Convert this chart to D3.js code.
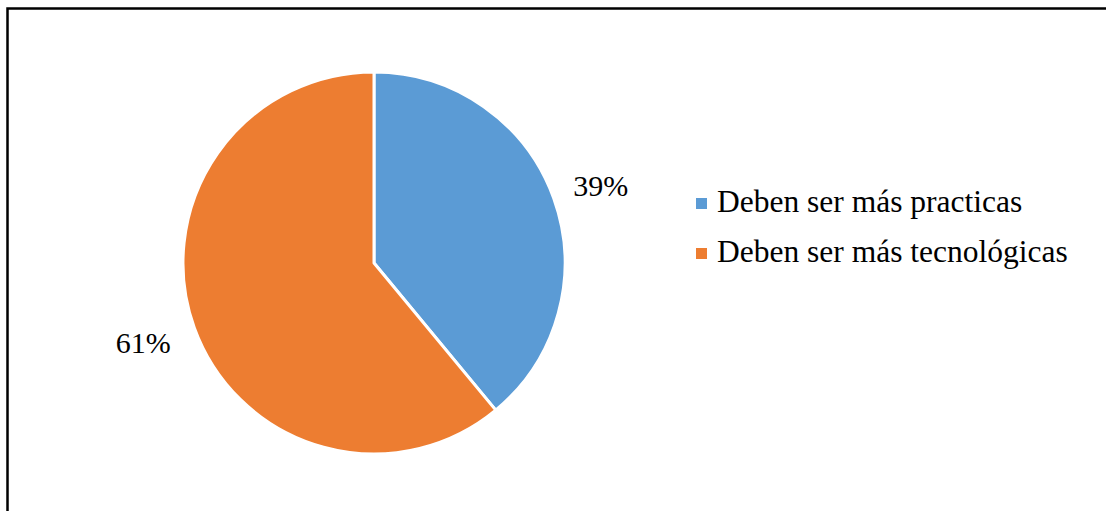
<!DOCTYPE html>
<html>
<head>
<meta charset="utf-8">
<script src="https://cdn.jsdelivr.net/npm/d3@7"></script>
<style>
  body { margin: 0; background: #fff; overflow: hidden; }
  svg { display: block; }
  text { font-family: 'Liberation Serif', 'DejaVu Serif', serif; }
</style>
</head>
<body>
<div id="chart"></div>
<script>
const categories = ["Deben ser más practicas", "Deben ser más tecnológicas"]
const values = [39, 61]
const colors = ["#5B9BD5", "#ED7D31"]

const width = 1106, height = 511
const cx = 374, cy = 263, radius = 191

const svg = d3.select("#chart").append("svg")
    .attr("width", width)
    .attr("height", height)

// outer frame (right and bottom edges fall outside the picture)
svg.append("path")
    .attr("d", "M7.5,520 L7.5,8.5 L1120,8.5")
    .attr("fill", "none")
    .attr("stroke", "#000")
    .attr("stroke-width", 2.5)

const pie = d3.pie().sort(null).value(d => d)
const arcs = pie(values)
const arc = d3.arc().innerRadius(0).outerRadius(radius)

const g = svg.append("g").attr("transform", `translate(${cx},${cy})`)

g.selectAll("path")
    .data(arcs)
    .join("path")
    .attr("d", arc)
    .attr("fill", (d, i) => colors[i])
    .attr("stroke", "#fff")
    .attr("stroke-width", 3)
    .attr("stroke-linejoin", "round")

// percentage labels outside the slices
const labelArc = d3.arc().innerRadius(radius * 1.25).outerRadius(radius * 1.25)
const total = d3.sum(values)
g.selectAll("text")
    .data(arcs)
    .join("text")
    .attr("transform", (d, i) => {
        const [x, y] = labelArc.centroid(d)
        return i === 0 ? `translate(${x + 2},${y + 3})` : `translate(${x - 6},${y - 1})`
    })
    .attr("text-anchor", "middle")
    .attr("dy", "0.35em")
    .attr("font-family", "'Liberation Serif', 'DejaVu Serif', serif")
    .attr("font-size", 30)
    .attr("fill", "#000")
    .text(d => Math.round(d.data / total * 100) + "%")

// legend
const legend = svg.append("g").attr("transform", "translate(696,203)")
const item = legend.selectAll("g")
    .data(categories)
    .join("g")
    .attr("transform", (d, i) => `translate(0,${i * 50})`)

item.append("rect")
    .attr("x", 0)
    .attr("y", -5)
    .attr("width", 11)
    .attr("height", 11)
    .attr("fill", (d, i) => colors[i])

item.append("text")
    .attr("x", 21)
    .attr("y", 9)
    .attr("font-family", "'Liberation Serif', 'DejaVu Serif', serif")
    .attr("font-size", 31.5)
    .attr("fill", "#000")
    .text(d => d)
</script>
</body>
</html>
